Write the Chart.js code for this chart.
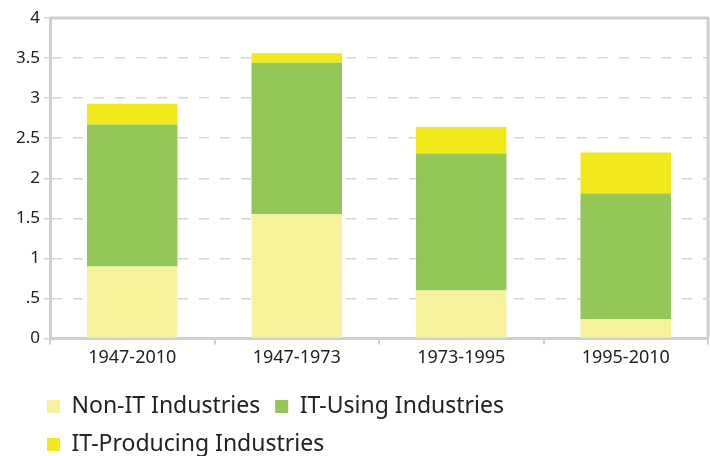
<!DOCTYPE html>
<html>
<head>
<meta charset="utf-8">
<script src="https://cdn.jsdelivr.net/npm/chart.js@4"></script>
<style>
  html, body { margin: 0; padding: 0; background: #fff; }
  #wrap { width: 710px; height: 456px; position: relative; }
</style>
</head>
<body>
<div id="wrap"><canvas id="c"></canvas></div>
<script>
const categories = ['1947-2010', '1947-1973', '1973-1995', '1995-2010'];
const nonIT = [0.90, 1.55, 0.60, 0.24];
const itUsing = [1.77, 1.89, 1.71, 1.57];
const itProducing = [0.26, 0.12, 0.33, 0.51];
const yTickLabels = ['0', '.5', '1', '1.5', '2', '2.5', '3', '3.5', '4'];
const seriesNames = ['Non-IT Industries', 'IT-Using Industries', 'IT-Producing Industries'];

const FONT = 'Noto Sans, sans-serif';
const TEXT = '#222222';
const AXIS = '#cfcfcf';

const framePlugin = {
  id: 'frame',
  afterDatasetsDraw(chart) {
    const a = chart.chartArea, ctx = chart.ctx;
    ctx.save();
    ctx.strokeStyle = AXIS;
    ctx.lineWidth = 3;
    ctx.beginPath();
    ctx.moveTo(a.left, a.top);
    ctx.lineTo(a.right, a.top);
    ctx.lineTo(a.right, a.bottom);
    ctx.stroke();
    ctx.restore();
  }
};
const legendShift = {
  id: 'legendShift',
  afterLayout(chart) {
    if (chart.legend) { chart.legend.left += 32; chart.legend.top += 10; }
  }
};

new Chart(document.getElementById('c'), {
  type: 'bar',
  data: {
    labels: categories,
    datasets: [
      { label: seriesNames[0], data: nonIT, backgroundColor: '#f7f39c' },
      { label: seriesNames[1], data: itUsing, backgroundColor: '#93c757' },
      { label: seriesNames[2], data: itProducing, backgroundColor: '#f2e91a' }
    ]
  },
  options: {
    responsive: true,
    maintainAspectRatio: false,
    animation: false,
    layout: { padding: { top: 18, right: 2, left: 0, bottom: 0 } },
    datasets: { bar: { barPercentage: 0.55, categoryPercentage: 1.0, borderWidth: 0 } },
    plugins: {
      tooltip: { enabled: false },
      legend: {
        position: 'bottom',
        align: 'start',
        labels: {
          font: { family: FONT, size: 23 },
          color: TEXT,
          boxWidth: 13,
          boxHeight: 13,
          padding: 15
        }
      }
    },
    scales: {
      x: {
        stacked: true,
        afterFit(scale) { scale.height = 31.5; },
        grid: { display: true, offset: true, drawOnChartArea: false, drawTicks: true, tickLength: 6, color: AXIS, lineWidth: 2 },
        border: { display: true, color: AXIS, width: 3 },
        ticks: { font: { family: FONT, size: 18 }, color: TEXT, padding: 3 }
      },
      y: {
        stacked: true,
        min: 0,
        max: 4,
        afterFit(scale) { scale.width = 50; },
        grid: { color: '#d6d6d6', lineWidth: 1.5, tickLength: 6, drawTicks: true },
        border: { display: true, color: AXIS, width: 3, dash: [10, 11] },
        ticks: {
          stepSize: 0.5,
          padding: 4,
          font: { family: FONT, size: 17 },
          color: TEXT,
          callback: (v, i) => yTickLabels[i]
        }
      }
    }
  },
  plugins: [framePlugin, legendShift]
});
</script>
</body>
</html>
